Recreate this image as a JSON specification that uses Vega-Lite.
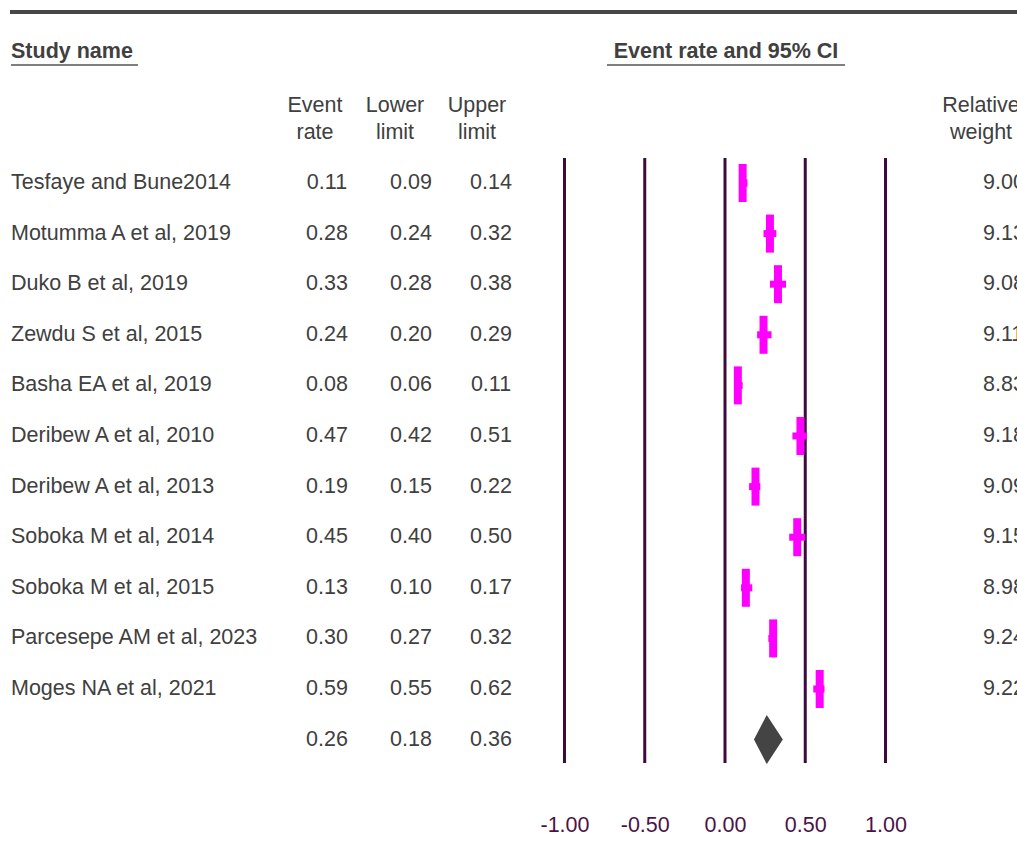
{
  "$schema": "https://vega.github.io/schema/vega-lite/v6.json",
  "width": 1017,
  "height": 860,
  "padding": 0,
  "autosize": {"type": "none"},
  "background": "white",
  "config": {"view": {"stroke": null}, "font": "Liberation Sans"},
  "datasets": {
    "studies": [
      {"row": 1, "study": "Tesfaye and Bune2014", "rate": 0.11, "lower": 0.09, "upper": 0.14, "weight": 9.00},
      {"row": 2, "study": "Motumma A et al, 2019", "rate": 0.28, "lower": 0.24, "upper": 0.32, "weight": 9.13},
      {"row": 3, "study": "Duko B et al, 2019", "rate": 0.33, "lower": 0.28, "upper": 0.38, "weight": 9.08},
      {"row": 4, "study": "Zewdu S et al, 2015", "rate": 0.24, "lower": 0.20, "upper": 0.29, "weight": 9.11},
      {"row": 5, "study": "Basha EA et al, 2019", "rate": 0.08, "lower": 0.06, "upper": 0.11, "weight": 8.83},
      {"row": 6, "study": "Deribew A et al, 2010", "rate": 0.47, "lower": 0.42, "upper": 0.51, "weight": 9.18},
      {"row": 7, "study": "Deribew A et al, 2013", "rate": 0.19, "lower": 0.15, "upper": 0.22, "weight": 9.09},
      {"row": 8, "study": "Soboka M et al, 2014", "rate": 0.45, "lower": 0.40, "upper": 0.50, "weight": 9.15},
      {"row": 9, "study": "Soboka M et al, 2015", "rate": 0.13, "lower": 0.10, "upper": 0.17, "weight": 8.98},
      {"row": 10, "study": "Parcesepe AM et al, 2023", "rate": 0.30, "lower": 0.27, "upper": 0.32, "weight": 9.24},
      {"row": 11, "study": "Moges NA et al, 2021", "rate": 0.59, "lower": 0.55, "upper": 0.62, "weight": 9.22}
    ],
    "pooled": [
      {"row": 12, "rate": 0.26, "lower": 0.18, "upper": 0.36}
    ],
    "ticks": [
      {"v": -1.0}, {"v": -0.5}, {"v": 0.0}, {"v": 0.5}, {"v": 1.0}
    ]
  },
  "layer": [
    {
      "data": {"name": "ticks"},
      "mark": {"type": "rule", "color": "#3c0a3c", "strokeWidth": 3},
      "encoding": {
        "x": {
          "field": "v", "type": "quantitative",
          "scale": {"domain": [-4.5171, 1.8193], "nice": false, "zero": false},
          "axis": {
            "orient": "bottom", "values": [-1, -0.5, 0, 0.5, 1], "format": ".2f",
            "labelExpr": "replace(datum.label, '\u2212', '-')",
            "domain": false, "ticks": false, "grid": false, "title": null,
            "offset": -50, "labelPadding": 4, "labelFontSize": 21.5,
            "labelColor": "#4b1248", "labelFont": "Liberation Sans"
          }
        },
        "y": {
          "datum": 0.5059, "type": "quantitative",
          "scale": {"domain": [-2.6166, 14.3794], "reverse": true, "nice": false, "zero": false},
          "axis": null
        },
        "y2": {"datum": 12.4625}
      }
    },
    {
      "data": {"values": [{}]},
      "mark": {"type": "rule", "color": "#474747", "strokeWidth": 4},
      "encoding": {
        "x": {"datum": -4.4548, "type": "quantitative"},
        "x2": {"datum": 1.8193},
        "y": {"datum": -2.3794, "type": "quantitative"}
      }
    },
    {
      "data": {"values": [{}]},
      "mark": {"type": "text", "text": "Study name", "align": "left", "fontWeight": "bold", "fontSize": 21.5, "color": "#404040"},
      "encoding": {
        "x": {"datum": -4.4486, "type": "quantitative"},
        "y": {"datum": -1.5889, "type": "quantitative"}
      }
    },
    {
      "data": {"values": [{}]},
      "mark": {"type": "text", "text": "Event rate and 95% CI", "align": "center", "fontWeight": "bold", "fontSize": 21.5, "color": "#404040"},
      "encoding": {
        "x": {"datum": 0.0062, "type": "quantitative"},
        "y": {"datum": -1.5889, "type": "quantitative"}
      }
    },
    {
      "data": {"values": [{}]},
      "mark": {"type": "rule", "color": "#555555", "strokeWidth": 1.5},
      "encoding": {
        "x": {"datum": -4.4486, "type": "quantitative"},
        "x2": {"datum": -3.6573},
        "y": {"datum": -1.332, "type": "quantitative"}
      }
    },
    {
      "data": {"values": [{}]},
      "mark": {"type": "rule", "color": "#555555", "strokeWidth": 1.5},
      "encoding": {
        "x": {"datum": -0.7352, "type": "quantitative"},
        "x2": {"datum": 0.7477},
        "y": {"datum": -1.332, "type": "quantitative"}
      }
    },
    {
      "data": {"values": [{}]},
      "mark": {"type": "text", "text": ["Event", "rate"], "lineHeight": 27, "align": "center", "fontSize": 21.5, "color": "#404040"},
      "encoding": {
        "x": {"datum": -2.5545, "type": "quantitative"},
        "y": {"datum": -0.5217, "type": "quantitative"}
      }
    },
    {
      "data": {"values": [{}]},
      "mark": {"type": "text", "text": ["Lower", "limit"], "lineHeight": 27, "align": "center", "fontSize": 21.5, "color": "#404040"},
      "encoding": {
        "x": {"datum": -2.0561, "type": "quantitative"},
        "y": {"datum": -0.5217, "type": "quantitative"}
      }
    },
    {
      "data": {"values": [{}]},
      "mark": {"type": "text", "text": ["Upper", "limit"], "lineHeight": 27, "align": "center", "fontSize": 21.5, "color": "#404040"},
      "encoding": {
        "x": {"datum": -1.5452, "type": "quantitative"},
        "y": {"datum": -0.5217, "type": "quantitative"}
      }
    },
    {
      "data": {"values": [{}]},
      "mark": {"type": "text", "text": ["Relative", "weight"], "lineHeight": 27, "align": "center", "fontSize": 21.5, "color": "#404040"},
      "encoding": {
        "x": {"datum": 1.595, "type": "quantitative"},
        "y": {"datum": -0.5217, "type": "quantitative"}
      }
    },
    {
      "data": {"name": "studies"},
      "mark": {"type": "text", "align": "left", "fontSize": 21.5, "color": "#404040"},
      "encoding": {
        "x": {"datum": -4.4486, "type": "quantitative"},
        "y": {"field": "row", "type": "quantitative"},
        "text": {"field": "study"}
      }
    },
    {
      "data": {"name": "studies"},
      "mark": {"type": "text", "align": "left", "fontSize": 21.5, "color": "#404040"},
      "encoding": {
        "x": {"datum": 1.6075, "type": "quantitative"},
        "y": {"field": "row", "type": "quantitative"},
        "text": {"field": "weight", "format": ".2f"}
      }
    },
    {
      "layer": [
        {
          "mark": {"type": "text", "align": "center", "fontSize": 21.5, "color": "#404040"},
          "encoding": {
            "x": {"datum": -2.4798, "type": "quantitative"},
            "y": {"field": "row", "type": "quantitative"},
            "text": {"field": "rate", "format": ".2f"}
          }
        },
        {
          "mark": {"type": "text", "align": "center", "fontSize": 21.5, "color": "#404040"},
          "encoding": {
            "x": {"datum": -1.9564, "type": "quantitative"},
            "y": {"field": "row", "type": "quantitative"},
            "text": {"field": "lower", "format": ".2f"}
          }
        },
        {
          "mark": {"type": "text", "align": "center", "fontSize": 21.5, "color": "#404040"},
          "encoding": {
            "x": {"datum": -1.4579, "type": "quantitative"},
            "y": {"field": "row", "type": "quantitative"},
            "text": {"field": "upper", "format": ".2f"}
          }
        }
      ],
      "data": {"values": [
        {"row": 1, "rate": 0.11, "lower": 0.09, "upper": 0.14},
        {"row": 2, "rate": 0.28, "lower": 0.24, "upper": 0.32},
        {"row": 3, "rate": 0.33, "lower": 0.28, "upper": 0.38},
        {"row": 4, "rate": 0.24, "lower": 0.20, "upper": 0.29},
        {"row": 5, "rate": 0.08, "lower": 0.06, "upper": 0.11},
        {"row": 6, "rate": 0.47, "lower": 0.42, "upper": 0.51},
        {"row": 7, "rate": 0.19, "lower": 0.15, "upper": 0.22},
        {"row": 8, "rate": 0.45, "lower": 0.40, "upper": 0.50},
        {"row": 9, "rate": 0.13, "lower": 0.10, "upper": 0.17},
        {"row": 10, "rate": 0.30, "lower": 0.27, "upper": 0.32},
        {"row": 11, "rate": 0.59, "lower": 0.55, "upper": 0.62},
        {"row": 12, "rate": 0.26, "lower": 0.18, "upper": 0.36}
      ]}
    },
    {
      "data": {"name": "studies"},
      "mark": {"type": "rule", "color": "#ff00ff", "strokeWidth": 7, "strokeCap": "butt"},
      "encoding": {
        "x": {"field": "lower", "type": "quantitative"},
        "x2": {"field": "upper"},
        "y": {"field": "row", "type": "quantitative"}
      }
    },
    {
      "data": {"name": "studies"},
      "mark": {"type": "tick", "orient": "vertical", "color": "#ff00ff", "size": 38, "thickness": 8, "opacity": 1},
      "encoding": {
        "x": {"field": "rate", "type": "quantitative"},
        "y": {"field": "row", "type": "quantitative"}
      }
    },
    {
      "data": {"name": "pooled"},
      "mark": {"type": "point", "filled": true, "shape": "M-0.522,0L0,-1L0.657,0L0,1Z", "size": 2401, "color": "#444444", "opacity": 1, "strokeWidth": 0},
      "encoding": {
        "x": {"field": "rate", "type": "quantitative"},
        "y": {"field": "row", "type": "quantitative"}
      }
    }
  ]
}
